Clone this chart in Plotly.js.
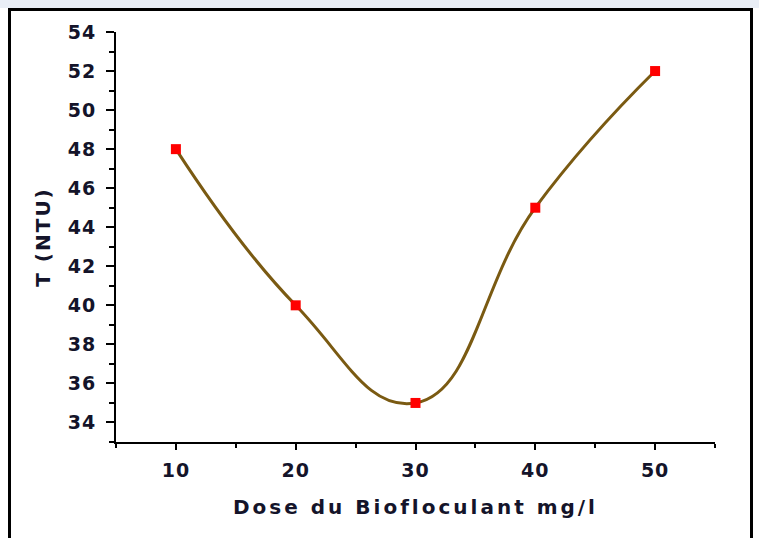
<!DOCTYPE html>
<html>
<head>
<meta charset="utf-8">
<script src="https://cdn.plot.ly/plotly-3.0.1.min.js"></script>
<style>
  html, body { margin: 0; padding: 0; background: #ffffff; }
  #wrap { position: relative; width: 759px; height: 538px; overflow: hidden; background: #ffffff; }
  #topstrip { position: absolute; left: 0; top: 0; width: 759px; height: 8px; background: #e9eef6; }
  #frame { position: absolute; left: 8px; top: 8px; width: 745px; height: 560px; border: 3px solid #000; box-sizing: border-box; pointer-events: none; }
  #chart { position: absolute; left: 0; top: 0; width: 759px; height: 538px; }
  .xtitle { letter-spacing: 3px; }
  .ytitle { letter-spacing: 2px; }
  .xtick text, .ytick text { letter-spacing: 1px; }
</style>
</head>
<body>
<div id="wrap">
  <div id="topstrip"></div>
  <div id="chart"></div>
  <div id="frame"></div>
</div>
<script>
// Data
const doseBiofloculant = [10, 20, 30, 40, 50];   // mg/l
const turbidityNTU     = [48, 40, 35, 45, 52];   // T (NTU)

const xTitle = "Dose du Biofloculant mg/l";
const yTitle = "T (NTU)";

const curveColor = "#7a5a12";
const markerColor = "#ff0000";
const tickFont = { family: "DejaVu Sans", size: 19, color: "#14142a", weight: "bold" };
const titleFont = { family: "DejaVu Sans", size: 20, color: "#14142a", weight: "bold" };

const traces = [
  {
    x: doseBiofloculant,
    y: turbidityNTU,
    type: "scatter",
    mode: "lines",
    line: { color: curveColor, width: 3, shape: "spline", smoothing: 1.3 },
    hoverinfo: "skip",
    showlegend: false
  },
  {
    x: doseBiofloculant,
    y: turbidityNTU,
    type: "scatter",
    mode: "markers",
    marker: { symbol: "square", size: 10, color: markerColor },
    showlegend: false
  }
];

const layout = {
  width: 759,
  height: 538,
  margin: { l: 116, r: 44, t: 32, b: 96 },
  paper_bgcolor: "rgba(0,0,0,0)",
  plot_bgcolor: "#ffffff",
  showlegend: false,
  xaxis: {
    range: [5, 55],
    tickmode: "linear",
    tick0: 0,
    dtick: 10,
    ticks: "outside",
    ticklen: 6,
    tickwidth: 2,
    tickcolor: "#000",
    showline: true,
    linecolor: "#000",
    linewidth: 2,
    showgrid: false,
    zeroline: false,
    mirror: false,
    tickfont: tickFont,
    ticklabelstandoff: 4,
    minor: { dtick: 5, tick0: 5, ticks: "outside", ticklen: 4, tickwidth: 2, tickcolor: "#000", showgrid: false },
    title: { text: xTitle, font: titleFont, standoff: 20 }
  },
  yaxis: {
    range: [33, 54],
    tickmode: "linear",
    tick0: 0,
    dtick: 2,
    ticks: "outside",
    ticklen: 8,
    tickwidth: 2,
    tickcolor: "#000",
    showline: true,
    linecolor: "#000",
    linewidth: 2,
    showgrid: false,
    zeroline: false,
    mirror: false,
    tickfont: tickFont,
    ticklabelstandoff: 6,
    minor: { dtick: 1, tick0: 0, ticks: "outside", ticklen: 5, tickwidth: 2, tickcolor: "#000", showgrid: false },
    title: { text: yTitle, font: titleFont, standoff: 12 }
  }
};

Plotly.newPlot("chart", traces, layout, { displayModeBar: false, staticPlot: true });
</script>
</body>
</html>
